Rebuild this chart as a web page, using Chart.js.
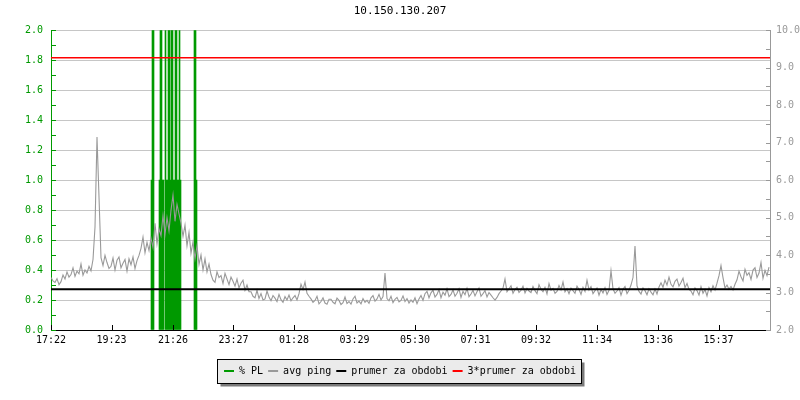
<!DOCTYPE html>
<html>
<head>
<meta charset="utf-8">
<script src="https://cdn.jsdelivr.net/npm/chart.js@4.4.1/dist/chart.umd.min.js"></script>
<style>
body { margin: 0; background: #fff; }
</style>
</head>
<body>
<canvas id="chart" width="800" height="400"></canvas>
<script>
// x axis: minutes since 17:22
var xMin = 0;
var xMax = 1438;
var xTickMinutes = [0, 121, 244, 365, 486, 607, 728, 849, 970, 1092, 1214, 1335];
var xTickLabels = ['17:22', '19:23', '21:26', '23:27', '01:28', '03:29', '05:30', '07:31', '09:32', '11:34', '13:36', '15:37'];

// avg ping (ms), one value every 4 minutes
var pingStep = 4;
var pingMs = [
  3.40, 3.31, 3.27, 3.37, 3.21, 3.29, 3.47, 3.36, 3.55, 3.41, 3.48, 3.66, 3.43, 3.57, 3.50, 3.76, 3.46, 3.60, 3.52, 3.70,
  3.58, 3.88, 4.75, 7.15, 5.55, 3.93, 3.72, 3.99, 3.80, 3.64, 3.70, 3.92, 3.60, 3.86, 3.95, 3.66, 3.78, 3.88, 3.57, 3.90,
  3.74, 3.95, 3.64, 3.85, 3.99, 4.18, 4.48, 4.06, 4.34, 4.12, 4.45, 4.20, 4.85, 4.30, 4.70, 4.52, 5.05, 4.55, 5.00, 4.65,
  5.20, 5.60, 4.90, 5.35, 5.10, 4.85, 4.50, 4.80, 4.25, 4.60, 4.05, 4.35, 3.90, 4.25, 3.75, 4.00, 3.60, 3.90, 3.55, 3.76,
  3.48, 3.33, 3.27, 3.55, 3.40, 3.45, 3.24, 3.51, 3.36, 3.21, 3.41, 3.30, 3.17, 3.36, 3.12, 3.25, 3.33, 3.06, 3.20, 3.02,
  3.02, 2.90, 2.86, 3.06, 2.84, 2.97, 2.80, 2.83, 3.04, 2.88, 2.78, 2.92, 2.85, 2.76, 2.95, 2.81, 2.74, 2.89, 2.80, 2.93,
  2.78, 2.86, 2.92, 2.80, 2.97, 3.22, 3.08, 3.28, 2.98, 2.90, 2.83, 2.74, 2.79, 2.90, 2.70, 2.76, 2.86, 2.72, 2.69, 2.82,
  2.82, 2.74, 2.70, 2.85, 2.79, 2.68, 2.73, 2.88, 2.71, 2.76, 2.69, 2.83, 2.90, 2.72, 2.77, 2.70, 2.84, 2.74, 2.79, 2.71,
  2.86, 2.92, 2.77, 2.83, 2.95, 2.80, 2.89, 3.52, 2.84, 2.78, 2.90, 2.73, 2.82, 2.87, 2.75, 2.79, 2.91, 2.76, 2.84, 2.72,
  2.80, 2.74, 2.86, 2.70, 2.83, 2.92, 2.79, 2.97, 3.03, 2.86, 2.99, 3.06, 2.88, 2.95, 3.08, 2.86, 3.01, 2.93, 3.10, 2.89,
  2.95, 3.07, 2.90, 2.98, 3.10, 2.87, 3.03, 2.94, 3.11, 2.89, 2.96, 3.06, 2.91, 3.02, 3.12, 2.90, 2.97, 3.05, 2.88, 3.00,
  2.93, 2.86, 2.80, 2.87, 2.97, 3.04, 3.12, 3.36, 3.02, 3.10, 3.18, 2.98, 3.08, 3.14, 3.00, 3.06, 3.17, 2.99, 3.11, 3.04,
  3.00, 3.16, 3.05, 2.97, 3.21, 3.09, 3.02, 3.14, 2.96, 3.24, 3.06, 3.11, 2.98, 3.03, 3.19, 3.07, 3.28, 3.02, 3.10, 2.97,
  3.12, 3.05, 2.98, 3.17, 3.08, 2.95, 3.14, 3.03, 3.33, 3.07, 3.16, 2.97, 3.05, 3.12, 2.93, 3.08, 2.99, 3.13, 2.95, 3.06,
  3.58, 3.10, 2.98, 3.04, 3.13, 2.93, 3.09, 3.16, 2.97, 3.06, 3.20, 3.40, 4.24, 3.18, 3.03, 2.96, 3.12, 3.05, 2.94, 3.10,
  3.01, 2.94, 3.09, 2.96, 3.15, 3.26, 3.14, 3.33, 3.20, 3.41, 3.22, 3.15, 3.30, 3.36, 3.17, 3.27, 3.38, 3.13, 3.24, 3.08,
  3.04, 2.94, 3.12, 3.05, 2.93, 3.16, 2.98, 3.08, 2.91, 3.13, 3.02, 3.18, 3.07, 3.25, 3.45, 3.72, 3.40, 3.12, 3.20, 3.09,
  3.16, 3.07, 3.22, 3.34, 3.57, 3.42, 3.31, 3.62, 3.46, 3.53, 3.35, 3.60, 3.66, 3.40, 3.52, 3.80, 3.38, 3.59, 3.45, 3.68
];

// packet loss (%), only the samples that are not zero
var plMinutes = [201, 203, 205, 217, 219, 221, 223, 225, 229, 231, 233, 235, 237, 239, 241, 243, 245, 247, 249, 251, 253, 255, 257, 259, 287, 289, 291];
var plValues  = [1, 2, 2, 1, 2, 2, 1, 1, 2, 1, 1, 2, 2, 1, 2, 2, 1, 1, 2, 2, 1, 1, 2, 1, 2, 2, 1];

var avgPing = 3.089;
var tripleAvg = 3 * avgPing;

var GREEN = '#009a00';
var GRAY = '#999999';
var GRID = '#c6c6c6';
var MONO = "'DejaVu Sans Mono', monospace";

Chart.defaults.font.family = MONO;
Chart.defaults.font.size = 10;
Chart.defaults.color = '#000';

var pingData = pingMs.map(function(v, i) { return {x: i * pingStep, y: v}; });
var plData = plMinutes.map(function(m, i) { return {x: m, y: plValues[i]}; });

// little tick marks pointing into the plot, like rrdtool
var innerTicks = {
  id: 'innerTicks',
  afterDatasetsDraw: function(chart) {
    var ctx = chart.ctx, a = chart.chartArea;
    var sy = chart.scales.y, sy1 = chart.scales.y1, sx = chart.scales.x;
    ctx.save();
    ctx.lineWidth = 1;
    ctx.strokeStyle = GREEN;
    for (var v = 0; v <= 2.0001; v += 0.1) {
      var p = Math.round(sy.getPixelForValue(v)) + 0.5;
      ctx.beginPath(); ctx.moveTo(a.left, p); ctx.lineTo(a.left + 5, p); ctx.stroke();
    }
    ctx.strokeStyle = GRAY;
    for (var w = 2; w <= 10.0001; w += 0.5) {
      var q = Math.round(sy1.getPixelForValue(w)) + 0.5;
      ctx.beginPath(); ctx.moveTo(a.right - 4, q); ctx.lineTo(a.right, q); ctx.stroke();
    }
    ctx.strokeStyle = '#000';
    xTickMinutes.forEach(function(m) {
      var r = Math.round(sx.getPixelForValue(m)) + 0.5;
      ctx.beginPath(); ctx.moveTo(r, a.bottom); ctx.lineTo(r, a.bottom - 5); ctx.stroke();
    });
    ctx.restore();
  }
};

// grey legend frame with a shadow
var legendFrame = {
  id: 'legendFrame',
  beforeDraw: function(chart) {
    var boxes = chart.legend && chart.legend.legendHitBoxes;
    if (!boxes || !boxes.length) return;
    var left = boxes[0].left, right = 0, cy = boxes[0].top + boxes[0].height / 2;
    boxes.forEach(function(b) { left = Math.min(left, b.left); right = Math.max(right, b.left + b.width); });
    var x0 = Math.round(left - 7) + 0.5, x1 = Math.round(right + 5) + 0.5;
    var y0 = Math.round(cy - 12) + 0.5, y1 = Math.round(cy + 12) + 0.5;
    var ctx = chart.ctx;
    ctx.save();
    ctx.fillStyle = '#7a7a7a';
    ctx.fillRect(x0 + 3, y0 + 3, x1 - x0, y1 - y0);
    ctx.fillStyle = '#ebebeb';
    ctx.fillRect(x0, y0, x1 - x0, y1 - y0);
    ctx.strokeStyle = '#000';
    ctx.lineWidth = 1;
    ctx.strokeRect(x0, y0, x1 - x0, y1 - y0);
    ctx.restore();
  }
};

var ctx = document.getElementById('chart').getContext('2d');
var chart = new Chart(ctx, {
  type: 'line',
  data: {
    datasets: [{
      type: 'bar',
      label: '% PL',
      data: plData,
      yAxisID: 'y',
      backgroundColor: GREEN,
      borderColor: GREEN,
      borderWidth: 0,
      barThickness: 1,
      order: 4
    }, {
      label: 'avg ping',
      data: pingData,
      yAxisID: 'y1',
      borderColor: GRAY,
      backgroundColor: GRAY,
      borderWidth: 1.1,
      pointRadius: 0,
      tension: 0,
      order: 3
    }, {
      label: 'prumer za obdobi',
      data: [{x: xMin, y: avgPing}, {x: xMax, y: avgPing}],
      yAxisID: 'y1',
      borderColor: '#000000',
      backgroundColor: '#000000',
      borderWidth: 2,
      pointRadius: 0,
      order: 2
    }, {
      label: '3*prumer za obdobi',
      data: [{x: xMin, y: tripleAvg}, {x: xMax, y: tripleAvg}],
      yAxisID: 'y1',
      borderColor: '#ff0000',
      backgroundColor: '#ff0000',
      borderWidth: 1.5,
      pointRadius: 0,
      order: 1
    }]
  },
  options: {
    responsive: false,
    animation: false,
    events: [],
    layout: { padding: { left: 0, right: 0, top: 0, bottom: 14 } },
    plugins: {
      title: {
        display: true,
        text: '10.150.130.207',
        color: '#000',
        font: { size: 11, weight: 'normal', family: MONO },
        padding: { top: 5, bottom: 12 }
      },
      legend: {
        position: 'bottom',
        labels: {
          boxWidth: 10,
          boxHeight: 2,
          padding: 5,
          color: '#000',
          font: { size: 10, family: MONO },
          generateLabels: function(chart) {
            return chart.data.datasets.map(function(ds, i) {
              return { text: ds.label, fillStyle: ds.borderColor, strokeStyle: ds.borderColor, lineWidth: 0, datasetIndex: i, hidden: false };
            });
          }
        }
      },
      tooltip: { enabled: false }
    },
    scales: {
      x: {
        type: 'linear',
        min: xMin,
        max: xMax,
        offset: false,
        afterBuildTicks: function(scale) {
          scale.ticks = xTickMinutes.map(function(m) { return {value: m}; });
        },
        afterFit: function(scale) { scale.height = 31; },
        ticks: {
          autoSkip: false,
          maxRotation: 0,
          padding: 4,
          color: '#000',
          callback: function(value) {
            var k = xTickMinutes.indexOf(value);
            return k >= 0 ? xTickLabels[k] : '';
          }
        },
        grid: { display: false, drawTicks: false },
        border: { display: true, color: '#000', width: 1 }
      },
      y: {
        position: 'left',
        min: 0,
        max: 2,
        afterFit: function(scale) { scale.width = 51; },
        ticks: {
          stepSize: 0.2,
          padding: 8,
          color: GREEN,
          callback: function(v) { return v.toFixed(1); }
        },
        grid: {
          drawTicks: false,
          color: function(c) { return c.tick && c.tick.value === 0 ? 'rgba(0,0,0,0)' : GRID; }
        },
        border: { display: true, color: GREEN, width: 1 }
      },
      y1: {
        position: 'right',
        min: 2,
        max: 10,
        afterFit: function(scale) { scale.width = 30; },
        ticks: {
          stepSize: 1,
          padding: 6,
          color: GRAY,
          callback: function(v) { return v.toFixed(1); }
        },
        grid: { display: false, drawTicks: false },
        border: { display: true, color: GRAY, width: 1 }
      }
    }
  },
  plugins: [legendFrame, innerTicks]
});
</script>
</body>
</html>
